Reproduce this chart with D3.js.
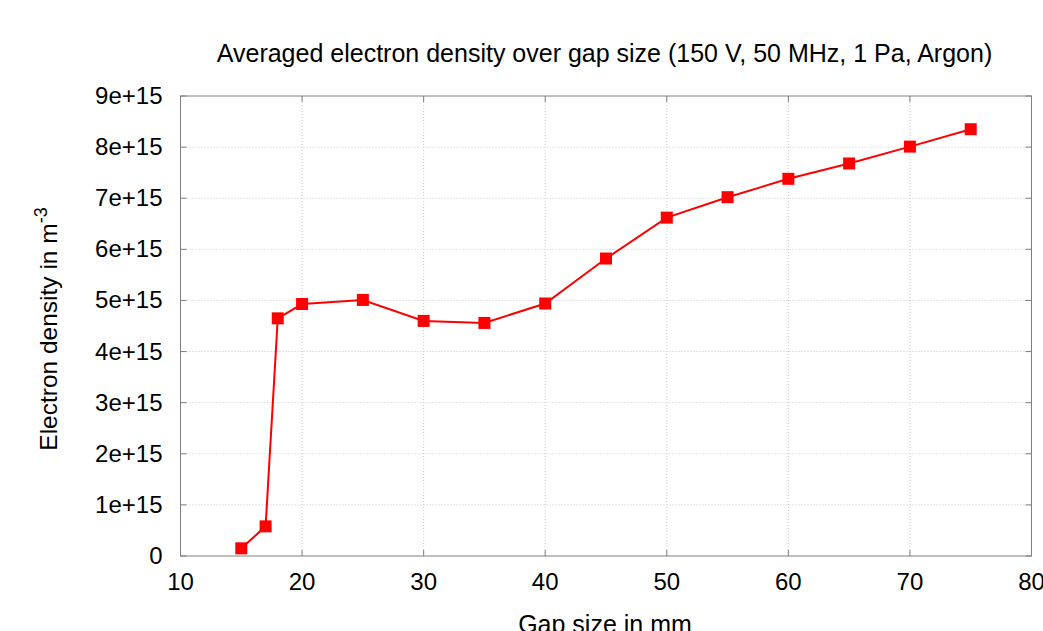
<!DOCTYPE html>
<html>
<head>
<meta charset="utf-8">
<script src="https://cdn.jsdelivr.net/npm/d3@7"></script>
<style>
  body { margin: 0; background: #fff; }
  text { font-family: "Liberation Sans", Arial, sans-serif; fill: #000; }
</style>
</head>
<body>
<div id="chart"></div>
<script>
// gap size (mm) vs averaged electron density (m^-3)
const gapSizes = [15, 17, 18, 20, 25, 30, 35, 40, 45, 50, 55, 60, 65, 70, 75];
const densities = [0.15e15, 0.58e15, 4.65e15, 4.93e15, 5.01e15, 4.60e15, 4.56e15, 4.94e15,
                   5.82e15, 6.62e15, 7.02e15, 7.38e15, 7.68e15, 8.01e15, 8.35e15];
const xTicks = [10, 20, 30, 40, 50, 60, 70, 80];
const yTicks = [0, 1e15, 2e15, 3e15, 4e15, 5e15, 6e15, 7e15, 8e15, 9e15];
const yTickLabels = ["0", "1e+15", "2e+15", "3e+15", "4e+15", "5e+15", "6e+15", "7e+15", "8e+15", "9e+15"];

const width = 1043, height = 631;
const margin = {top: 96, right: 11.5, bottom: 75, left: 180.5};

const svg = d3.select("#chart")
    .append("svg")
    .attr("width", width)
    .attr("height", height);

const x = d3.scaleLinear().domain([10, 80]).range([margin.left, width - margin.right]);
const y = d3.scaleLinear().domain([0, 9e15]).range([height - margin.bottom, margin.top]);

const x0 = x.range()[0], x1 = x.range()[1];
const y0 = y.range()[0], y1 = y.range()[1];

// grid
const grid = svg.append("g")
    .attr("stroke", "#c8c8c8")
    .attr("stroke-width", 1)
    .attr("stroke-dasharray", "1,2");

grid.selectAll("line.gx")
    .data(xTicks.slice(1, -1))
    .enter().append("line")
    .attr("x1", d => x(d)).attr("x2", d => x(d))
    .attr("y1", y1).attr("y2", y0);

grid.selectAll("line.gy")
    .data(yTicks.slice(1, -1))
    .enter().append("line")
    .attr("x1", x0).attr("x2", x1)
    .attr("y1", d => y(d)).attr("y2", d => y(d));

// ticks, gnuplot style: inward and mirrored
const ticks = svg.append("g").attr("stroke", "#808080").attr("stroke-width", 1);
const tl = 6;
xTicks.forEach(t => {
    ticks.append("line").attr("x1", x(t)).attr("x2", x(t)).attr("y1", y0).attr("y2", y0 - tl);
    ticks.append("line").attr("x1", x(t)).attr("x2", x(t)).attr("y1", y1).attr("y2", y1 + tl);
});
yTicks.forEach(t => {
    ticks.append("line").attr("x1", x0).attr("x2", x0 + tl).attr("y1", y(t)).attr("y2", y(t));
    ticks.append("line").attr("x1", x1).attr("x2", x1 - tl).attr("y1", y(t)).attr("y2", y(t));
});

// border
svg.append("rect")
    .attr("x", x0).attr("y", y1)
    .attr("width", x1 - x0).attr("height", y0 - y1)
    .attr("fill", "none")
    .attr("stroke", "#808080")
    .attr("stroke-width", 1);

// tick labels
svg.append("g").selectAll("text")
    .data(xTicks)
    .enter().append("text")
    .attr("x", d => x(d))
    .attr("y", y0 + 34)
    .attr("text-anchor", "middle")
    .attr("font-size", 24)
    .text(d => d);

svg.append("g").selectAll("text")
    .data(yTicks)
    .enter().append("text")
    .attr("x", x0 - 18)
    .attr("y", d => y(d) + 8)
    .attr("text-anchor", "end")
    .attr("font-size", 24)
    .text((d, i) => yTickLabels[i]);

// series
const pts = gapSizes.map((g, i) => [g, densities[i]]);

svg.append("path")
    .datum(pts)
    .attr("fill", "none")
    .attr("stroke", "#ff0000")
    .attr("stroke-width", 2)
    .attr("d", d3.line().x(d => x(d[0])).y(d => y(d[1])));

const ms = 12;
svg.append("g").selectAll("rect")
    .data(pts)
    .enter().append("rect")
    .attr("x", d => x(d[0]) - ms / 2)
    .attr("y", d => y(d[1]) - ms / 2)
    .attr("width", ms)
    .attr("height", ms)
    .attr("fill", "#ff0000");

// titles
svg.append("text")
    .attr("x", 604.5)
    .attr("y", 62)
    .attr("text-anchor", "middle")
    .attr("font-size", 25)
    .text("Averaged electron density over gap size (150 V, 50 MHz, 1 Pa, Argon)");

svg.append("text")
    .attr("x", 605)
    .attr("y", 633)
    .attr("text-anchor", "middle")
    .attr("font-size", 25)
    .text("Gap size in mm");

const yl = svg.append("text")
    .attr("transform", `translate(57,329) rotate(-90)`)
    .attr("text-anchor", "middle")
    .attr("font-size", 24.5);
yl.append("tspan").text("Electron density in m");
yl.append("tspan").attr("dy", -10).attr("font-size", 18).text("-3");
</script>
</body>
</html>
